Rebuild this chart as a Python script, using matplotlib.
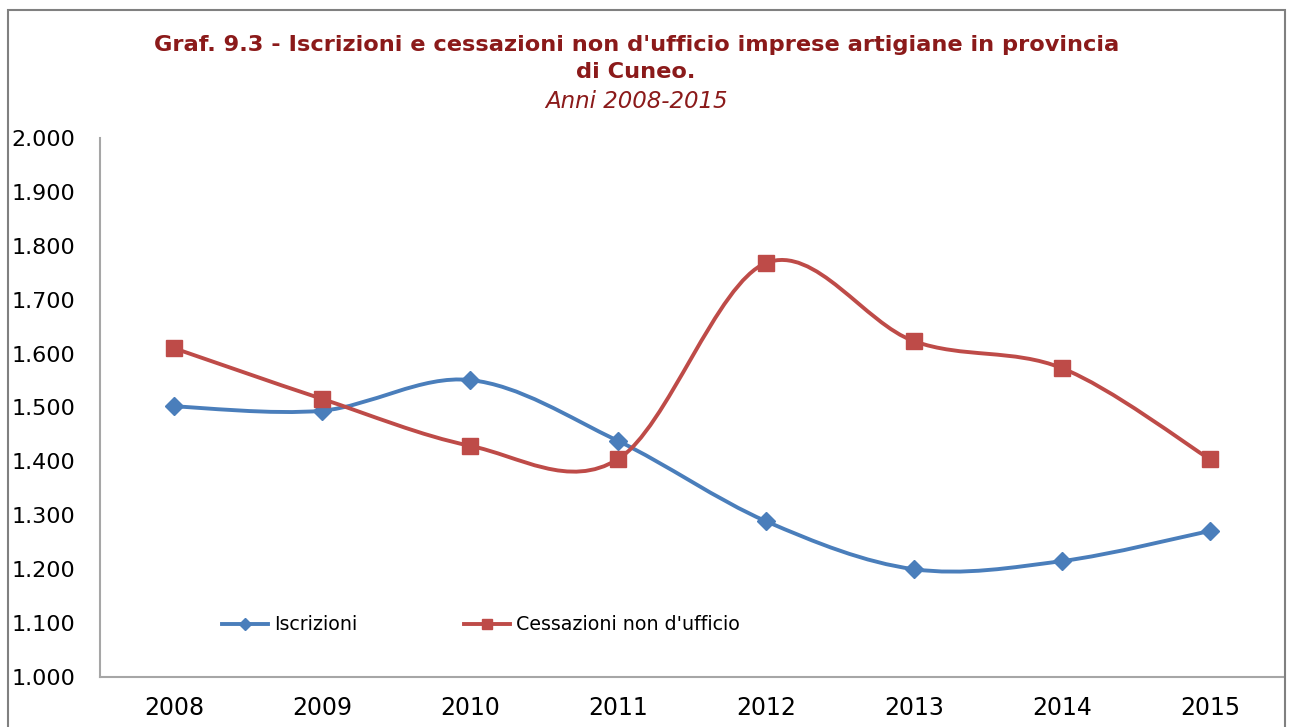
# Iscrizioni e cessazioni imprese artigiane - provincia di Cuneo
import numpy as np
import matplotlib.pyplot as plt
from matplotlib.path import Path
from matplotlib.patches import PathPatch, Rectangle
from matplotlib.lines import Line2D
from matplotlib.ticker import FuncFormatter

# Data
anni = ['2008', '2009', '2010', '2011', '2012', '2013', '2014', '2015']
iscrizioni = [1502, 1494, 1551, 1438, 1289, 1200, 1215, 1271]
cessazioni = [1610, 1516, 1429, 1404, 1768, 1623, 1573, 1404]

blu = '#4A7EBB'
rosso = '#BE4B48'
titolo_col = '#8B1A1A'


# Excel-like smoothed line (Bezier segments, Catmull-Rom control points)
def smooth_path(x, y):
    pts = np.column_stack([x, y]).astype(float)
    n = len(pts)
    verts = [pts[0]]
    codes = [Path.MOVETO]
    for i in range(n - 1):
        p0 = pts[max(i - 1, 0)]
        p1 = pts[i]
        p2 = pts[i + 1]
        p3 = pts[min(i + 2, n - 1)]
        c1 = p1 + (p2 - p0) / 6.0
        c2 = p2 - (p3 - p1) / 6.0
        verts += [c1, c2, p2]
        codes += [Path.CURVE4] * 3
    return Path(verts, codes)


fig = plt.figure(figsize=(12.93, 7.27), dpi=100)
ax = fig.add_axes([0.0773, 0.0688, 0.9157, 0.7414])

x = np.arange(len(anni))
for vals, col, mk, ms in [(iscrizioni, blu, 'D', 9), (cessazioni, rosso, 's', 12)]:
    ax.add_patch(PathPatch(smooth_path(x, vals), facecolor='none',
                           edgecolor=col, lw=2.8, zorder=2))
    ax.plot(x, vals, linestyle='none', marker=mk, markersize=ms,
            color=col, zorder=3)

ax.set_xlim(-0.5, len(anni) - 0.5)
ax.set_ylim(1000, 2000)
ax.set_yticks(np.arange(1000, 2001, 100))
ax.yaxis.set_major_formatter(FuncFormatter(lambda v, p: f'{v/1000:.3f}'))
ax.set_xticks(x)
ax.set_xticklabels(anni)
ax.tick_params(axis='both', length=0, colors='black')
ax.tick_params(axis='y', pad=18, labelsize=16)
ax.tick_params(axis='x', pad=14, labelsize=17)
for s in ['top', 'right']:
    ax.spines[s].set_visible(False)
for s in ['left', 'bottom']:
    ax.spines[s].set_color('#A6A6A6')
    ax.spines[s].set_linewidth(1.5)

# legend
handles = [Line2D([], [], color=blu, lw=2.8, marker='D', markersize=6),
           Line2D([], [], color=rosso, lw=2.8, marker='s', markersize=7)]
fig.legend(handles, ['Iscrizioni', "Cessazioni non d'ufficio"],
           loc='center left', bbox_to_anchor=(222 / 1293, 1 - 625 / 727),
           ncol=2, frameon=False, fontsize=13.7, handlelength=2.4,
           handletextpad=0.35, columnspacing=5.6, borderpad=0, borderaxespad=0)

# titles
fig.text(0.492, 1 - 45 / 727, "Graf. 9.3 - Iscrizioni e cessazioni non d'ufficio imprese artigiane in provincia",
         ha='center', va='center', fontsize=16.2, fontweight='bold', color=titolo_col)
fig.text(0.492, 1 - 72 / 727, 'di Cuneo.', ha='center', va='center',
         fontsize=16.2, fontweight='bold', color=titolo_col)
fig.text(0.492, 1 - 101 / 727, 'Anni 2008-2015', ha='center', va='center',
         fontsize=16.5, style='italic', color=titolo_col)

# outer frame
fig.patches.append(Rectangle((8 / 1293, -0.05), 1277 / 1293, 1.05 - 10 / 727,
                             transform=fig.transFigure, fill=False,
                             edgecolor='#808080', lw=1.5))

fig.savefig('out.png', dpi=100)
